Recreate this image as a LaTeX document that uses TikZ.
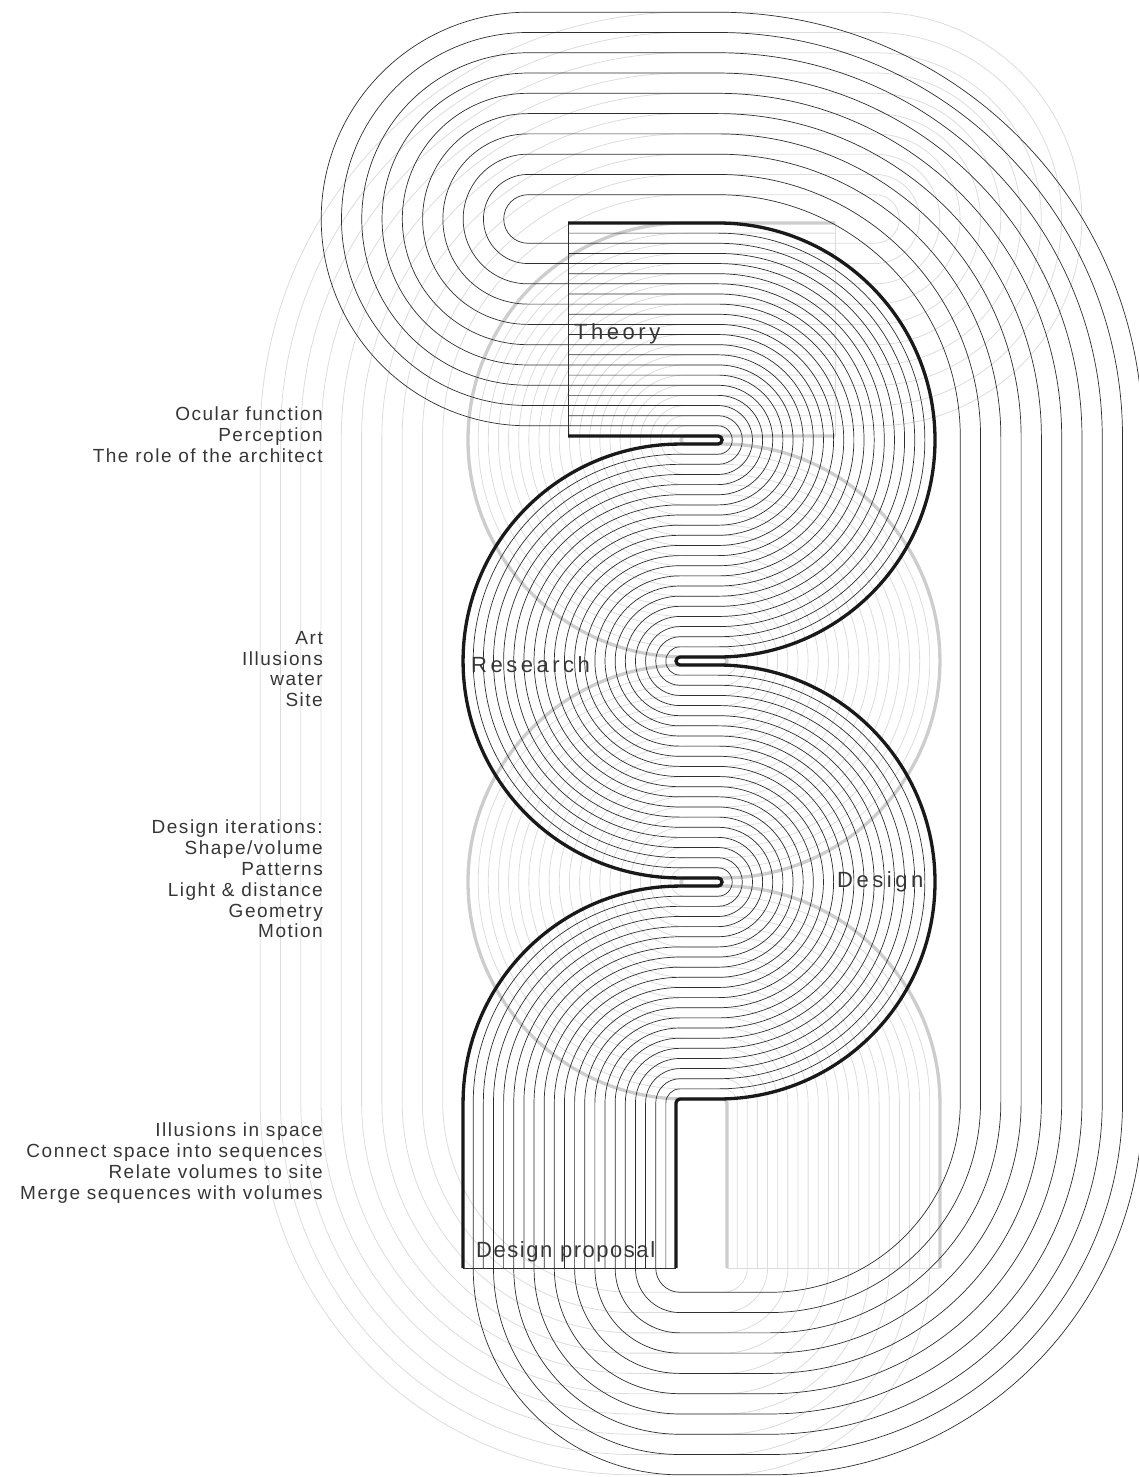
\documentclass[tikz,border=0pt]{standalone}
\usepackage{fontspec}
\setmainfont{Liberation Sans}
\newfontfamily\notefont[LetterSpace=8]{Liberation Sans}
\newfontfamily\stagefont[LetterSpace=16]{Liberation Sans}
\newfontfamily\proposalfont[LetterSpace=7]{Liberation Sans}
\definecolor{ink}{HTML}{363636}
\definecolor{strandink}{HTML}{2E2E2E}
\definecolor{ghost}{HTML}{DCDCDC}
\definecolor{ghostdark}{HTML}{CDCDCD}

\tikzset{
  strand/.style={draw=strandink, line width=0.7pt},
  heavystrand/.style={draw=black!90, line width=3.3pt},
  ghoststrand/.style={draw=ghost, line width=0.8pt},
  ghostheavy/.style={draw=ghostdark, line width=3.3pt},
  note/.style={anchor=east, align=right, inner sep=0pt, text=ink,
    font=\notefont\fontsize{19}{20.8}\selectfont},
  stage/.style={anchor=base west, inner sep=0pt, text=ink,
    font=\stagefont\fontsize{22}{26}\selectfont},
}

% one strand of the serpent band, #2 = its place in the band
\newcommand{\ribbonline}[2]{%
  \pgfmathsetmacro{\ra}{217-10.14*#2}%
  \pgfmathsetmacro{\rb}{4+10.14*#2}%
  \draw[#1] (568,{-440+\ra}) -- (718,{-440+\ra})
    arc[start angle=90, end angle=-90, radius=\ra pt]
    -- (680,{-440-\ra})
    arc[start angle=90, end angle=270, radius=\rb pt]
    -- (718,{-661-\rb})
    arc[start angle=90, end angle=-90, radius=\ra pt]
    -- (680,{-882-\ra})
    arc[start angle=90, end angle=180, radius=\rb pt]
    -- ({680-\rb},-1268);
}

% the long way back round the outside
\newcommand{\outerloop}[2]{%
  \pgfmathsetmacro{\rb}{4+10.14*#2}%
  \pgfmathsetmacro{\rc}{218+\rb}%
  \pgfmathsetmacro{\rd}{166+\rb}%
  \draw[#1] (568,{-219-\rb}) -- (528,{-219-\rb})
    arc[start angle=270, end angle=90, radius=\rb pt]
    -- (718,{-219+\rb})
    arc[start angle=90, end angle=0, radius=\rc pt]
    -- ({936+\rb},-1102)
    arc[start angle=0, end angle=-90, radius=\rd pt]
    -- (680,{-1268-\rb})
    arc[start angle=270, end angle=180, radius=\rb pt];
}

\newcommand{\strands}[2]{%
  \foreach \s in {1,...,20}{\ribbonline{#1}{\s}}
  \foreach \s in {2,4,...,20}{\outerloop{#1}{\s}}
  \draw[#1] (568,-223) -- (568,-436);
  \draw[#1] (463,-1268) -- (676,-1268);
  \foreach \s in {0,21}{\ribbonline{#2}{\s}}
}

\begin{document}
\begin{tikzpicture}[x=1pt, y=1pt]
  \useasboundingbox (0,0) rectangle (1138,-1477);

  \begin{scope}[xshift=1403pt, xscale=-1]
    \strands{ghoststrand}{ghostheavy}
  \end{scope}
  \strands{strand}{heavystrand}

  \node[stage] (theory) at (574,-339) {Theory};
  \node[stage] (research) at (471,-672) {Research};
  \node[stage] (design) at (837,-887) {Design};
  \node[stage, font=\proposalfont\fontsize{22}{26}\selectfont] (proposal) at (476,-1257) {Design proposal};

  \node[note] (theorynotes) at (323,-435) {Ocular function\\Perception\\The role of the architect};
  \node[note] (researchnotes) at (323,-669) {Art\\Illusions\\water\\Site};
  \node[note] (designnotes) at (323,-879) {Design iterations:\\Shape/volume\\Patterns\\Light \& distance\\Geometry\\Motion};
  \node[note] (proposalnotes) at (323,-1163) {Illusions in space\\Connect space into sequences\\Relate volumes to site\\Merge sequences with volumes};
\end{tikzpicture}
\end{document}
